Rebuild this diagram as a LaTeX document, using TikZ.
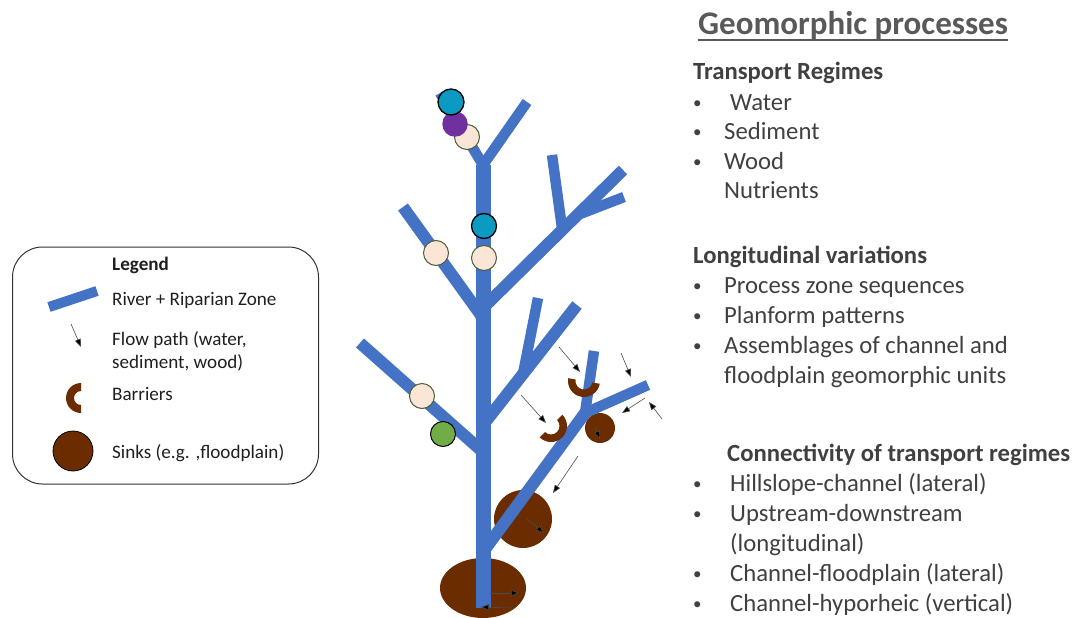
\documentclass[tikz,border=0pt]{standalone}
\usepackage{fontspec}
\setmainfont{Carlito}
\usetikzlibrary{arrows.meta,shapes.geometric,calc}
\definecolor{riverc}{HTML}{4472C4}
\definecolor{tealc}{HTML}{0A9AC2}
\definecolor{purplec}{HTML}{7030A0}
\definecolor{creamc}{HTML}{FBE5D6}
\definecolor{creamline}{HTML}{4B5E3A}
\definecolor{greenc}{HTML}{70AD47}
\definecolor{sinkc}{HTML}{6B2D00}
\definecolor{textc}{HTML}{404040}
\definecolor{titlec}{HTML}{595959}
\newcommand{\myBody}{\fontsize{24.7}{29}\selectfont}
\newcommand{\myBullet}{\fontsize{17}{20}\selectfont}
\newcommand{\myTitle}{\fontsize{33}{40}\selectfont}
\newcommand{\myLeg}{\fontsize{19.1}{23}\selectfont}
\newcommand{\drawbarrier}[5]{%
  \fill[sinkc] ($(#1,#2)+(#5:#3)$) arc[start angle=#5, end angle=#5+180, radius=#3]
    -- ($(#1,#2)+(#5+180:#4)$) arc[start angle=#5+180, end angle=#5, radius=#4] -- cycle;}
\tikzset{
  river/.style={draw=riverc, line width=12pt},
  trunk/.style={draw=riverc, line width=15pt},
  twig/.style={draw=riverc, line width=10.5pt},
  rtext/.style={anchor=base west, inner sep=0pt, text=textc, font=\myBody},
  rbul/.style={anchor=base west, inner sep=0pt, text=textc, font=\myBullet},
  rhead/.style={anchor=base west, inner sep=0pt, text=textc, font=\myBody\bfseries},
  ltext/.style={anchor=base west, inner sep=0pt, text=black!88, font=\myLeg},
  dot/.style={circle, inner sep=0pt, minimum size=25pt},
  creamdot/.style={dot, fill=creamc, draw=creamline, line width=1pt},
  flow/.style={draw=black!70, line width=0.6pt, -{Triangle[length=8pt,width=6pt,fill=black]}},
}
\begin{document}
\begin{tikzpicture}[x=1pt,y=-1pt]
\useasboundingbox (0,0) rectangle (1073,618);
% ---------- sinks (under the rivers)
\node[ellipse, fill=sinkc, inner sep=0pt, minimum width=86pt, minimum height=60pt] (sinkA) at (483,588) {};
\node[circle, fill=sinkc, inner sep=0pt, minimum size=58pt] (sinkB) at (523,519) {};
\node[circle, fill=sinkc, inner sep=0pt, minimum size=30pt] (sinkC) at (600,428) {};
% ---------- river network
\coordinate (t0) at (483,608);
\coordinate (t1) at (483,165);
\draw[trunk] (t0) -- (t1);
\draw[twig] (t1) -- (440,93);
\draw[twig] (t1) -- (527,102);
\draw[river] (403,207) -- (483,318);
\draw[river] (483,308) -- (623,170);
\draw[twig] (580,214) -- (624,197);
\draw[twig] (552,155) -- (562,228);
\draw[river] (483,425) -- (577,305);
\draw[twig] (538,298) -- (523,374);
\draw[river] (360,343) -- (483,452);
\coordinate (J) at (585,413);
\draw[river] (483,552) -- (J);
\draw[twig] (J) -- (594,351);
\draw[twig] (J) -- (648,385);
% ---------- barriers
\drawbarrier{584}{381}{16}{8.5}{10}
\drawbarrier{551}{426}{16}{8.5}{-45}
% ---------- circles
\node[creamdot] (c1) at (467,137) {};
\node[dot, fill=purplec, minimum size=25.5pt] (c2) at (455,124) {};
\node[dot, fill=tealc, draw=black, line width=1.3pt, minimum size=26pt] (c3) at (451,102) {};
\node[dot, fill=tealc, draw=black, line width=1.3pt] (c4) at (484,226) {};
\node[creamdot] (c5) at (484,258) {};
\node[creamdot] (c6) at (436,253) {};
\node[creamdot] (c7) at (422,396) {};
\node[dot, fill=greenc, draw=black, line width=1pt] (c8) at (443,434) {};
% ---------- flow paths
\coordinate (a1s) at (559,347); \coordinate (a1e) at (580,372);
\coordinate (a2s) at (621,353); \coordinate (a2e) at (631,377);
\coordinate (a3s) at (645,398); \coordinate (a3e) at (622,413);
\coordinate (a4s) at (662,419); \coordinate (a4e) at (649,402);
\coordinate (a5s) at (521,395); \coordinate (a5e) at (546,423);
\coordinate (a6s) at (595,427); \coordinate (a6e) at (600,439);
\coordinate (a7s) at (578,456); \coordinate (a7e) at (553,493);
\coordinate (a8s) at (527,519); \coordinate (a8e) at (544,533);
\coordinate (a9s) at (490,593); \coordinate (a9e) at (519,593);
\coordinate (a10s) at (512,608); \coordinate (a10e) at (481,607);
\foreach \k in {1,...,10} {\draw[flow] (a\k s) -- (a\k e);}
% ---------- legend
\node[draw=black!80, line width=1pt, rounded corners=30pt, minimum width=306pt, minimum height=237pt, inner sep=0pt] (legbox) at (165.5,365.5) {};
\node[ltext, font=\myLeg\bfseries] (legtitle) at (112,270) {Legend};
\coordinate (lr1) at (49,307); \coordinate (lr2) at (97,291);
\draw[draw=riverc, line width=10pt] (lr1) -- (lr2);
\node[ltext] (leg1) at (112,305) {River + Riparian Zone};
\coordinate (la1) at (71,324); \coordinate (la2) at (81,347);
\draw[flow] (la1) -- (la2);
\node[ltext] (leg2) at (112,345) {Flow path (water,};
\node[ltext] (leg2b) at (112,368) {sediment, wood)};
\drawbarrier{81}{398}{15}{7}{90}
\node[ltext] (leg3) at (112,400) {Barriers};
\node[circle, fill=sinkc, draw=black, line width=0.8pt, inner sep=0pt, minimum size=40pt] (legsink) at (73,451) {};
\node[ltext] (leg4) at (112,458) {Sinks (e.g. ,floodplain)};
% ---------- right-hand text
\node[anchor=base west, inner sep=0pt, text=titlec, font=\myTitle\bfseries] (title) at (698,35) {Geomorphic processes};
\draw[titlec, line width=2pt] ([yshift=-5pt]title.base west) -- ([yshift=-5pt]title.base east);
\node[rhead] (h1) at (693,80) {Transport Regimes};
\node[rbul] (b1) at (693,108) {•};   \node[rtext] (i1) at (730,110) {Water};
\node[rbul] (b2) at (693,137.5) {•}; \node[rtext] (i2) at (724,139.5) {Sediment};
\node[rbul] (b3) at (693,167) {•};   \node[rtext] (i3) at (724,169) {Wood};
\node[rtext] (i4) at (724,198.5) {Nutrients};
\node[rhead] (h2) at (693,263) {Longitudinal variations};
\node[rbul] (b5) at (693,291) {•}; \node[rtext] (i5) at (724,293) {Process zone sequences};
\node[rbul] (b6) at (693,321) {•}; \node[rtext] (i6) at (724,323) {Planform patterns};
\node[rbul] (b7) at (693,351) {•}; \node[rtext] (i7) at (724,353) {Assemblages of channel and};
\node[rtext] (i8) at (724,383) {floodplain geomorphic units};
\node[rhead] (h3) at (727,461) {Connectivity of transport regimes};
\node[rbul] (b9) at (693,489) {•};  \node[rtext] (i9) at (730,491) {Hillslope-channel (lateral)};
\node[rbul] (b10) at (693,519) {•}; \node[rtext] (i10) at (730,521) {Upstream-downstream};
\node[rtext] (i11) at (730,551) {(longitudinal)};
\node[rbul] (b12) at (693,579) {•}; \node[rtext] (i12) at (730,581) {Channel-floodplain (lateral)};
\node[rbul] (b13) at (693,609) {•}; \node[rtext] (i13) at (730,611) {Channel-hyporheic (vertical)};
\end{tikzpicture}
\end{document}
